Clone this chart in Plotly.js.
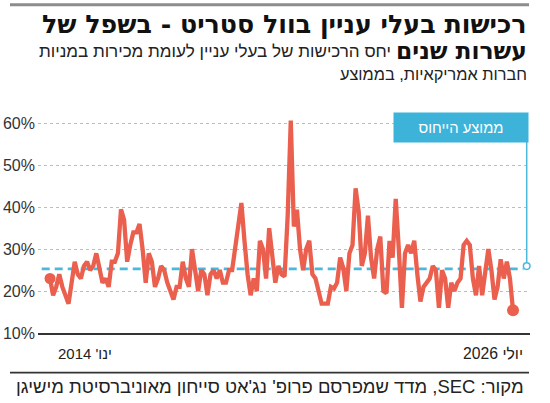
<!DOCTYPE html>
<html><head><meta charset="utf-8">
<script src="https://cdn.plot.ly/plotly-3.0.1.min.js"></script>
<style>html,body{margin:0;padding:0;background:#fff}#c{width:550px;height:403px}</style>
</head><body><div id="c"></div>
<script>
// Monthly ratio of insider purchases to insider sales (%), Jan 2014 - Jul 2026
const values = [23,19,21,24,21,19,17,22,27,24,23,26,27,25,26,29,26,22,23,21,
27,27,29,39.5,37,27,31,34,34,36,30,22,29,27,21,23,26,25,22,20,
18,21,21,27,23,21,30,25,20,25,24,19,24,25,23,25,22,22,25,25,
31,36,41,32,24,19,23,20,32,30,23,35,28,22,26,24,23.5,38,60.7,35.4,
39.4,30,25,30,32,24,23,20,17,17,17,21,20.6,22,28,25.5,20,29,31,44.5,
39,26,29,38,28,23,30,33,20,19.5,32,28,42,30,16,29,31,29,32,24,
17.5,21,22,23,26,25,16,25,23,16,22,20,22,23,31,32,31,23,19,26,
19,25,30,25,18,21,27.6,23,27,23,15.4];
const avgValue = 25.3;
const yTicks = [10,20,30,40,50,60];
const yTickLabels = ['10%','20%','30%','40%','50%','60%'];
const xLabels = ["ינו' 2014", "יולי 2026"];
const titleText = "רכישות בעלי עניין בוול סטריט - בשפל של";
const subtitleBold = "עשרות שנים";
const subtitleText = "יחס הרכישות של בעלי עניין לעומת מכירות במניות";
const subtitleText2 = "חברות אמריקאיות, בממוצע";
const calloutText = "ממוצע הייחוס";
const sourceText = "מקור: SEC, מדד שמפרסם פרופ' נג'אט סייחון מאוניברסיטת מישיגן";

const xIdx = values.map((_, i) => i);
const W = 550, H = 403, M = {l: 38, r: 20, t: 114.9, b: 69.7};
const px = x => (x - M.l) / (W - M.l - M.r);
const py = y => (H - M.b - y) / (H - M.t - M.b);
const rtl = s => '\u202B' + s + '\u202C';
const NARROW = '"Liberation Sans Narrow", "Liberation Sans", "DejaVu Sans Condensed", sans-serif';
const BOLD = '"DejaVu Sans", "Liberation Sans", sans-serif';
const RED = '#ea5f4d', BLUE = '#4bb8dc';
const last = values.length - 1;
const xr = [-3.89, 155.5];
const dx = v => (v - 50) / ((513 - 50) / last);

const traces = [
  {x: xIdx, y: values, type: 'scatter', mode: 'lines',
   line: {color: RED, width: 4.3, shape: 'linear'}, hoverinfo: 'skip'},
  {x: [xIdx[0], xIdx[last]], y: [values[0], values[last]], type: 'scatter', mode: 'markers',
   marker: {color: RED, size: [11, 12], opacity: 1, line: {width: 0}}, hoverinfo: 'skip'}
];

const ann = (text, x, y, anchor, family, size, color, weight) => ({
  xref: 'paper', yref: 'paper', x: px(x), y: py(y), xanchor: anchor, yanchor: 'middle',
  text: rtl(text), showarrow: false, font: {family: family, size: size, color: color, weight: weight || 'normal'}
});
const annotations = [
  ann(titleText, 529, 24.5, 'right', BOLD, 23, '#111', 'bold'),
  ann(subtitleBold, 529, 50.5, 'right', BOLD, 23, '#111', 'bold'),
  ann(subtitleText, 393, 51, 'right', NARROW, 18, '#222'),
  ann(subtitleText2, 529, 74, 'right', NARROW, 18, '#222'),
  Object.assign(ann(calloutText, 461, 127.5, 'center', NARROW, 16, '#fff'),
    {bgcolor: '#3db3da', width: 130, height: 25, borderpad: 2}),
  ann(xLabels[0], 85, 353.5, 'center', NARROW, 16, '#222'),
  ann(xLabels[1], 525, 353.5, 'right', NARROW, 16, '#222'),
  ann(sourceText, 526, 387, 'right', NARROW, 16, '#222')
];
const targetWidths = [485, 131, 352, 187, 85, 54, 60, 508];

const layout = {
  width: W, height: H, margin: M, showlegend: false,
  paper_bgcolor: '#fff', plot_bgcolor: '#fff',
  xaxis: {range: xr, showgrid: false, zeroline: false, showticklabels: false,
          showline: true, linecolor: '#333', linewidth: 1.6, fixedrange: true},
  yaxis: {range: [10, 62], tickvals: yTicks, ticktext: yTickLabels, showgrid: true,
          gridcolor: '#bdbdbd', griddash: 'dot', gridwidth: 1, zeroline: false,
          ticks: '', ticklabelstandoff: 2,
          tickfont: {family: NARROW, size: 16, color: '#333'}, fixedrange: true},
  shapes: [
    {type: 'line', xref: 'paper', yref: 'paper', x0: px(10), x1: px(529), y0: py(4.5), y1: py(4.5),
     line: {color: '#8c8c8c', width: 3}},
    {type: 'line', xref: 'paper', yref: 'paper', x0: px(10), x1: px(529), y0: py(373), y1: py(373),
     line: {color: '#333', width: 1.6}},
    {type: 'line', xref: 'x', yref: 'y', x0: dx(41.7), x1: dx(523.5), y0: avgValue, y1: avgValue,
     line: {color: BLUE, width: 2.6, dash: '8px,5px'}, layer: 'below'},
    {type: 'line', xref: 'paper', yref: 'paper', x0: px(526.7), x1: px(526.7), y0: py(142), y1: py(263),
     line: {color: BLUE, width: 1.5}},
    {type: 'circle', xref: 'paper', yref: 'paper', x0: px(523.4), x1: px(530), y0: py(263), y1: py(269.6),
     line: {color: BLUE, width: 1.5}, fillcolor: '#fff'}
  ],
  annotations: annotations
};
Plotly.newPlot('c', traces, layout, {staticPlot: true, displayModeBar: false}).then(gd => {
  const upd = {};
  gd.querySelectorAll('.annotation').forEach(g => {
    const i = +g.getAttribute('data-index');
    const t = g.querySelector('.annotation-text');
    if (!t || !targetWidths[i]) return;
    const w = t.getBBox().width;
    if (w > 0) upd['annotations[' + i + '].font.size'] = annotations[i].font.size * targetWidths[i] / w;
  });
  return Plotly.relayout(gd, upd);
});
</script></body></html>
